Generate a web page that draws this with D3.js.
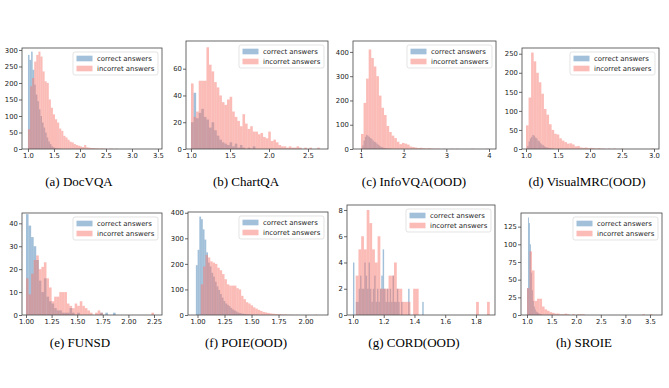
<!DOCTYPE html>
<html>
<head>
<meta charset="utf-8">
<script src="https://cdn.jsdelivr.net/npm/d3@7/dist/d3.min.js"></script>
<style>
  body { margin: 0; background: #fff; }
  svg { display: block; }
  .tick text { font-family: "DejaVu Sans", sans-serif; font-size: 6.8px; fill: #222; }
  .tick line { stroke: #444; stroke-width: 0.8; }
</style>
</head>
<body>
<svg id="chart" width="669" height="388"></svg>
<script>
// dataset captions, in panel order
var captions = ["(a) DocVQA", "(b) ChartQA", "(c) InfoVQA(OOD)", "(d) VisualMRC(OOD)",
                "(e) FUNSD", "(f) POIE(OOD)", "(g) CORD(OOD)", "(h) SROIE"];

// histogram counts (one bin per entry)
var docvqaCorrect   = [285,270,295,240,195,165,145,120,100,80,65,50,35,23,15,8,5,3,2,1,1];
var docvqaIncorrect = [60,190,215,265,285,295,280,235,205,200,150,125,105,90,80,62,55,40,35,28,22,20,15,12,10,8,6,12,5,4,3,3,2,2,1,2,1,1,0,1,1,0,1];
var chartqaCorrect   = [20,42,23,27,30,24,22,16,20,14,10,7,5,4,3,5,2,4,1,3,1,0,1,0,2];
var chartqaIncorrect = [49,24,28,51,51,51,76,63,58,50,46,40,35,33,37,39,28,24,21,17,26,19,15,17,13,13,11,12,9,8,13,6,7,5,3,2,2,1,2,1,1,2,1,0,1,0,1,0,0,1];
var infovqaCorrect   = [3,15,35,50,58,55,50,45,42,35,30,28,22,18,14,10,8,5,4,3,2,2,1,1];
var infovqaIncorrect = [62,190,290,410,375,340,300,220,170,140,95,70,55,45,30,20,25,22,18,10,8,6,4,5,3,2,3,2,1,1,1,0,1,0,0,1,0,1,0,0,0,0,0,1,0,0,0,0,0,1];
var visualmrcCorrect   = [2,8,20,28,32,37,35,30,28,22,20,15,12,10,7,5,4,3,2,2,1,1];
var visualmrcIncorrect = [62,135,253,230,200,175,145,105,90,65,50,40,38,28,22,18,14,15,12,7,8,4,3,4,2,3,2,1,2,1,1,0,1,0,1,0,0,1,0,0,0,0,0,0,0,0,0,0,0,1];
var funsdCorrect   = [44,39,34,30,24,15,10,16,8,6,5,3,2,2,1,1,1,3,1,0,1,0,0,0,0,0,0,0,0,1,0,1,0,0,1];
var funsdIncorrect = [16,9,18,24,26,20,21,23,16,12,6,8,8,10,10,10,5,4,3,5,4,6,4,3,2,1,0,1,2,1,0,0,0,0,0,0,0,0,0,0,0,0,0,0,0,0,0,0,0,1];
var poieCorrect   = [195,255,385,375,335,295,245,205,190,165,150,130,112,98,82,68,55,45,40,35,28,22,18,14,10,8,6,5,4,3,3,2,2,1,1,1];
var poieIncorrect = [120,190,235,225,210,205,200,185,175,160,140,120,115,115,115,105,100,75,62,50,45,38,30,25,20,16,12,10,8,6,5,4,3,3,2,2,1,1,1,0,1,0,0,0,0,0,0,0,1];
var cordCorrect   = [4,0,1,1,2,3,2,2,4,3,2,4,2,1,2,3,1,2,1,2,3,5,2,1,2,1,2,1,3,1,1,2,1,0,1,0,0,0,0,2,0,0,0,0,0,0,0,0,0,1];
var cordIncorrect = [0,3,5,6,5,8,7,5,4,6,2,2,2,3,3,4,2,2,1,1,1,0,2,2,0,0,0,0,0,0,0,0,0,0,0,0,0,0,0,0,0,0,0,0,0,1,0,0,0,1];
var sroieCorrect   = [38,138,130,100,60,35,20,12,8,5,4,3,2,1,1];
var sroieIncorrect = [38,90,63,20,23,23,12,8,6,4,3,2,2,1,1,2,1,0,1,0,1,1,1,0,0,0,0,0,0,0,0,0,0,0,0,0,0,0,0,0,0,0,0,0,0,0,1,0,0,1];

var correctCounts   = [docvqaCorrect, chartqaCorrect, infovqaCorrect, visualmrcCorrect, funsdCorrect, poieCorrect, cordCorrect, sroieCorrect];
var incorrectCounts = [docvqaIncorrect, chartqaIncorrect, infovqaIncorrect, visualmrcIncorrect, funsdIncorrect, poieIncorrect, cordIncorrect, sroieIncorrect];

// bin edges: first edge and bin width of each series
var correctStart   = [1.0, 1.0, 1.0, 1.0, 1.0, 0.985, 1.0, 1.0];
var correctWidth   = [0.03, 0.033, 0.03, 0.02, 0.025, 0.016, 0.0092, 0.02];
var incorrectStart = [1.0, 1.0, 1.0, 1.0, 1.0, 1.03, 1.0, 1.0];
var incorrectWidth = [0.04, 0.033, 0.06, 0.04, 0.025, 0.022, 0.0178, 0.051];

// axis tick labels
var xTicks = [[1.0,1.5,2.0,2.5,3.0,3.5], [1.0,1.5,2.0,2.5], [1,2,3,4], [1.0,1.5,2.0,2.5,3.0],
              [1.0,1.25,1.5,1.75,2.0,2.25], [1.0,1.25,1.5,1.75,2.0], [1.0,1.2,1.4,1.6,1.8], [1.0,1.5,2.0,2.5,3.0,3.5]];
var yTicks = [[0,50,100,150,200,250,300], [0,20,40,60], [0,100,200,300,400], [0,50,100,150,200,250],
              [0,10,20,30,40], [0,100,200,300,400], [0,2,4,6,8], [0,25,50,75,100,125]];
var xFormats = [".1f", ".1f", "d", ".1f", ".2f", ".2f", ".1f", ".1f"];
var xDomains = [[0.885,3.577], [0.936,2.756], [0.8125,4.164], [0.9375,3.078],
                [0.961,2.328], [0.912,2.208], [0.961,1.924], [0.878,3.744]];
var yMax = [306, 80.7, 445, 265, 44.5, 403, 8.38, 144.3];

// layout: plot frame [left, top, right, bottom] and caption position
var frames = [[22,48,162,149], [186,41,328,149], [353,41,496,149], [522,48,659,149],
              [22,213,162,315], [188,212,328,315], [347,205,495,315], [521,213,662,315]];
var captionX = [79, 246, 414, 587, 80, 246, 414, 584];
var captionY = [186, 186, 186, 186, 347, 347, 347, 347];

var blue = "#4682b4", red = "#f87a70";
var svg = d3.select("#chart");

function drawBars(g, x, y, counts, start, width, color) {
  g.append("g").selectAll("rect")
    .data(counts.map(function(c, i){ return {c: c, x0: start + i*width, x1: start + (i+1)*width}; })
      .filter(function(d){ return d.c > 0; }))
    .enter().append("rect")
    .attr("x", function(d){ return x(d.x0); })
    .attr("width", function(d){ return x(d.x1) - x(d.x0); })
    .attr("y", function(d){ return y(d.c); })
    .attr("height", function(d){ return y(0) - y(d.c); })
    .attr("fill", color)
    .attr("fill-opacity", 0.5);
}

frames.forEach(function(f, k){
  var x = d3.scaleLinear().domain(xDomains[k]).range([f[0], f[2]]);
  var y = d3.scaleLinear().domain([0, yMax[k]]).range([f[3], f[1]]);
  var g = svg.append("g");

  drawBars(g, x, y, correctCounts[k], correctStart[k], correctWidth[k], blue);
  drawBars(g, x, y, incorrectCounts[k], incorrectStart[k], incorrectWidth[k], red);

  // axes
  var xa = g.append("g").attr("transform", "translate(0," + f[3] + ")")
    .call(d3.axisBottom(x).tickValues(xTicks[k]).tickFormat(d3.format(xFormats[k])).tickSize(3).tickPadding(1.2));
  var ya = g.append("g").attr("transform", "translate(" + f[0] + ",0)")
    .call(d3.axisLeft(y).tickValues(yTicks[k]).tickFormat(d3.format("d")).tickSize(3).tickPadding(1.2));
  xa.select(".domain").remove();
  ya.select(".domain").remove();

  // frame
  g.append("rect")
    .attr("x", f[0]).attr("y", f[1])
    .attr("width", f[2] - f[0]).attr("height", f[3] - f[1])
    .attr("fill", "none").attr("stroke", "#444").attr("stroke-width", 0.8);

  // legend
  var lw = 85, lh = 23;
  var lx = f[2] - 4 - lw, ly = f[1] + 4;
  var lg = g.append("g").attr("transform", "translate(" + lx + "," + ly + ")");
  lg.append("rect").attr("width", lw).attr("height", lh).attr("rx", 2)
    .attr("fill", "#fff").attr("fill-opacity", 0.8)
    .attr("stroke", "#d8d8d8").attr("stroke-width", 0.7);
  [["correct answers", blue], ["incorret answers", red]].forEach(function(e, i){
    var cy = 6.5 + i * 10;
    lg.append("rect").attr("x", 3.5).attr("y", cy - 2.8).attr("width", 16).attr("height", 5.6)
      .attr("fill", e[1]).attr("fill-opacity", 0.5);
    lg.append("text").attr("x", 24).attr("y", cy).attr("dy", "0.35em")
      .style("font-family", "DejaVu Sans, sans-serif").style("font-size", "6.9px").attr("fill", "#222")
      .text(e[0]);
  });

  // caption
  svg.append("text")
    .attr("x", captionX[k]).attr("y", captionY[k])
    .attr("text-anchor", "middle")
    .style("font-family", "Liberation Serif, Times New Roman, serif")
    .style("font-size", "13px")
    .attr("fill", "#000")
    .text(captions[k]);
});
</script>
</body>
</html>
